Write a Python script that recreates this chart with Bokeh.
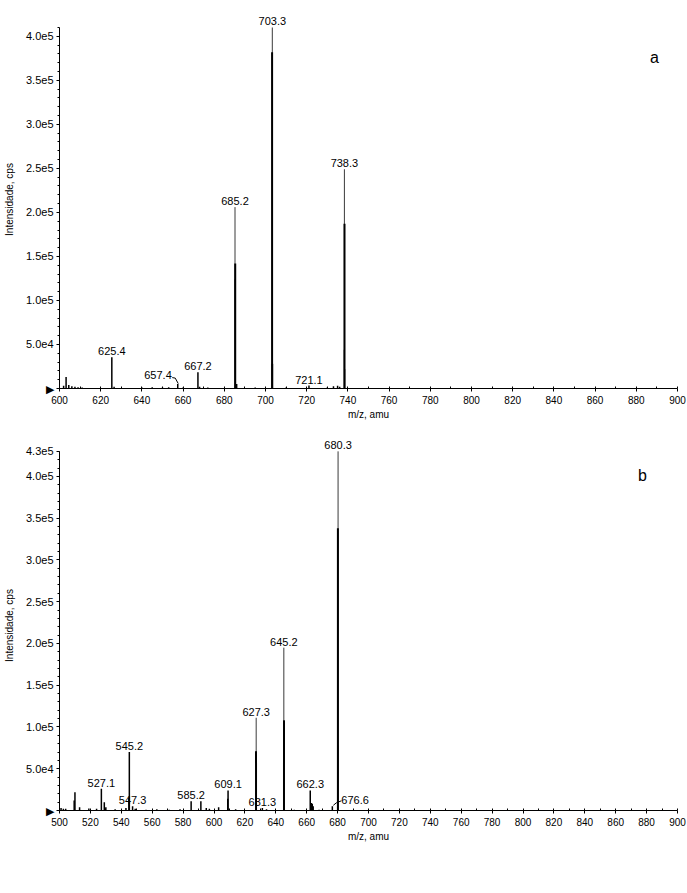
import numpy as np
from bokeh.plotting import figure
from bokeh.models import FixedTicker, Label, Range1d
from bokeh.layouts import column
from bokeh.embed import file_html
from bokeh.resources import INLINE
from bokeh.core.properties import value

# ---------------- Panel a data (m/z, intensity in cps) ----------------
a_apex_mz = [685.2, 703.3, 738.3]
a_apex_int = [206000, 410000, 249000]
a_body_mz = [685.3, 703.2, 738.35]
a_body_int = [142000, 382000, 187000]
a_foot_mz = [685.0, 702.9, 703.6, 738.1, 738.6]
a_foot_int = [124000, 28000, 28000, 44000, 22000]
a_minor_mz = [602.0, 603.2, 604.5, 606.0, 607.5, 609.0, 611.0, 625.4, 626.5,
              640.0, 645.0, 650.0, 653.0, 657.4, 660.0, 667.2, 668.0, 672.0,
              686.0, 695.0, 710.0, 721.1, 730.0, 733.0, 735.0, 736.0]
a_minor_int = [3000, 13000, 4000, 2500, 2000, 1500, 1000, 35500, 2000,
               1000, 1500, 1200, 1500, 5000, 1000, 18500, 2000, 1000,
               5000, 1000, 1000, 3400, 1000, 2500, 3000, 2000]
a_lab_mz = [625.4, 667.2, 685.2, 703.3, 721.1, 738.3]
a_lab_int = [35500, 18500, 206000, 410000, 3400, 249000]
a_lab_txt = ["625.4", "667.2", "685.2", "703.3", "721.1", "738.3"]
a_call_mz = 657.4
a_call_int = 5000
a_call_txt = "657.4"
a_xticks = list(range(600, 901, 20))
a_yticks = [0, 50000, 100000, 150000, 200000, 250000, 300000, 350000, 400000]
a_ylabels = ["\u25B6", "5.0e4", "1.0e5", "1.5e5", "2.0e5", "2.5e5", "3.0e5", "3.5e5", "4.0e5"]
a_ymax = 410000

# ---------------- Panel b data ----------------
b_apex_mz = [627.3, 645.2, 680.3]
b_apex_int = [111000, 195000, 430000]
b_body_mz = [627.2, 645.3, 680.2]
b_body_int = [71000, 108000, 338000]
b_foot_mz = [627.5, 645.0, 680.5]
b_foot_int = [28000, 41000, 78000]
b_minor_mz = [501.0, 502.5, 504.0, 509.5, 510.0, 513.0, 519.0, 524.0, 527.1,
              529.0, 530.0, 536.0, 543.0, 544.9, 545.2, 547.3, 549.0, 556.0,
              563.0, 571.0, 578.0, 585.2, 591.5, 595.0, 597.0, 603.0, 608.9,
              609.1, 614.0, 631.3, 634.0, 652.0, 662.3, 663.0, 663.6, 664.2,
              668.0, 676.6]
b_minor_int = [3000, 2000, 2000, 12000, 22000, 4000, 2500, 2000, 26000,
               10000, 4000, 1500, 3000, 15000, 70000, 5000, 2000, 1000,
               1500, 1000, 1500, 11000, 11000, 3000, 2000, 4000, 14000,
               24000, 1500, 3000, 1500, 1000, 24000, 9000, 8000, 5000,
               1000, 5000]
b_lab_mz = [527.1, 545.2, 547.3, 585.2, 609.1, 627.3, 631.3, 645.2, 662.3, 680.3]
b_lab_int = [26000, 70000, 5000, 11000, 24000, 111000, 3000, 195000, 24000, 430000]
b_lab_txt = ["527.1", "545.2", "547.3", "585.2", "609.1", "627.3", "631.3",
             "645.2", "662.3", "680.3"]
b_call_mz = 676.6
b_call_int = 5000
b_call_txt = "676.6"
b_xticks = list(range(500, 901, 20))
b_yticks = [0, 50000, 100000, 150000, 200000, 250000, 300000, 350000, 400000, 430000]
b_ylabels = ["\u25B6", "5.0e4", "1.0e5", "1.5e5", "2.0e5", "2.5e5", "3.0e5", "3.5e5", "4.0e5", "4.3e5"]
b_ymax = 430000

FONT = value("Liberation Sans")
FIG_W = 687
B_LEFT = 59
B_RIGHT = 10
B_TOP = 10


def make_panel(x0, x1, ytop, height, border_bottom, ymax, xticks, yticks, ylabels,
               apex_mz, apex_int, body_mz, body_int, foot_mz, foot_int,
               minor_mz, minor_int, lab_mz, lab_int, lab_txt,
               call_mz, call_int, call_txt, call_side, letter, letter_xy):
    p = figure(width=FIG_W, height=height, x_range=Range1d(x0, x1),
               y_range=Range1d(0, ytop), output_backend="svg",
               toolbar_location=None, min_border_left=B_LEFT,
               min_border_right=B_RIGHT, min_border_top=B_TOP,
               min_border_bottom=border_bottom)
    p.outline_line_color = None
    p.grid.visible = False
    p.background_fill_color = "white"
    p.border_fill_color = "white"

    # sticks
    p.segment(x0=minor_mz, y0=[0] * len(minor_mz), x1=minor_mz, y1=minor_int,
              line_color="black", line_width=1.5)
    p.segment(x0=foot_mz, y0=[0] * len(foot_mz), x1=foot_mz, y1=foot_int,
              line_color="#8a8a8a", line_width=1)
    p.segment(x0=apex_mz, y0=[0] * len(apex_mz), x1=apex_mz, y1=apex_int,
              line_color="#3a3a3a", line_width=1)
    p.segment(x0=body_mz, y0=[0] * len(body_mz), x1=body_mz, y1=body_int,
              line_color="black", line_width=2)

    # peak labels
    p.text(x=lab_mz, y=lab_int, text=lab_txt, text_font=FONT,
           text_font_size="11px", text_color="black", text_align="center",
           text_baseline="bottom", y_offset=-2)

    # callout label with leader
    frame_w = float(FIG_W - B_LEFT - B_RIGHT)
    dxp = (x1 - x0) / frame_w
    pxk = (height - border_bottom - B_TOP) / ytop  # px per cps
    dyp = 1.0 / pxk
    if call_side == "left":
        p.text(x=[call_mz], y=[call_int], text=[call_txt], text_font=FONT,
               text_font_size="11px", text_color="black", text_align="right",
               text_baseline="middle", x_offset=-6, y_offset=-9)
        lx = [call_mz - 5.5 * dxp, call_mz - 2.5 * dxp, call_mz + 0.5 * dxp]
        ly = [call_int + 6.5 * dyp, call_int + 6.0 * dyp, call_int + 0.5 * dyp]
    else:
        p.text(x=[call_mz], y=[call_int], text=[call_txt], text_font=FONT,
               text_font_size="11px", text_color="black", text_align="left",
               text_baseline="middle", x_offset=9, y_offset=-6)
        lx = [call_mz + 1.0 * dxp, call_mz + 4.0 * dxp, call_mz + 9.0 * dxp]
        ly = [call_int + 1.0 * dyp, call_int + 3.5 * dyp, call_int + 5.5 * dyp]
    p.line(x=lx, y=ly, line_color="black", line_width=1)

    # axes
    for ax in (p.xaxis[0], p.yaxis[0]):
        ax.axis_line_color = "black"
        ax.major_tick_line_color = "black"
        ax.minor_tick_line_color = "black"
        ax.major_label_text_color = "black"
        ax.major_label_text_font = "Liberation Sans"
        ax.axis_label_text_font = "Liberation Sans"
        ax.axis_label_text_font_style = "normal"
        ax.axis_label_text_color = "black"
        ax.axis_label_text_font_size = "10px"

    xa = p.xaxis[0]
    xa.ticker = FixedTicker(ticks=xticks, minor_ticks=list(range(x0, x1 + 1, 10)))
    xa.bounds = (x0, x1)
    xa.major_tick_out = 3
    xa.major_tick_in = 0
    xa.minor_tick_out = 0
    xa.minor_tick_in = 2
    xa.major_label_text_font_size = "10px"
    xa.major_label_standoff = 4
    xa.axis_label = "m/z, amu"
    xa.axis_label_standoff = 2

    ya = p.yaxis[0]
    ya.ticker = FixedTicker(ticks=yticks,
                            minor_ticks=list(range(0, ymax + 1, 10000)))
    ya.bounds = (0, ymax)
    ya.major_label_overrides = {t: s for t, s in zip(yticks, ylabels)}
    ya.major_tick_out = 3
    ya.major_tick_in = 0
    ya.minor_tick_out = 2
    ya.minor_tick_in = 0
    ya.major_label_text_font_size = "11px"
    ya.major_label_standoff = 3
    ya.axis_label = "Intensidade, cps"
    ya.axis_label_standoff = 8

    # panel letter
    p.add_layout(Label(x=letter_xy[0], y=letter_xy[1], text=letter,
                       text_font="Liberation Sans", text_font_size="16px",
                       text_color="black", text_align="center",
                       text_baseline="middle"))
    return p


p1 = make_panel(600, 900, 429300, 430, 42, a_ymax, a_xticks, a_yticks, a_ylabels,
                a_apex_mz, a_apex_int, a_body_mz, a_body_int, a_foot_mz, a_foot_int,
                a_minor_mz, a_minor_int, a_lab_mz, a_lab_int, a_lab_txt,
                a_call_mz, a_call_int, a_call_txt, "left", "a", (888.8, 376000))
p2 = make_panel(500, 900, 443000, 425, 45, b_ymax, b_xticks, b_yticks, b_ylabels,
                b_apex_mz, b_apex_int, b_body_mz, b_body_int, b_foot_mz, b_foot_int,
                b_minor_mz, b_minor_int, b_lab_mz, b_lab_int, b_lab_txt,
                b_call_mz, b_call_int, b_call_txt, "right", "b", (877.3, 401000))

layout = column(p1, p2, spacing=0)
open("out.html", "w").write(file_html(layout, INLINE))
